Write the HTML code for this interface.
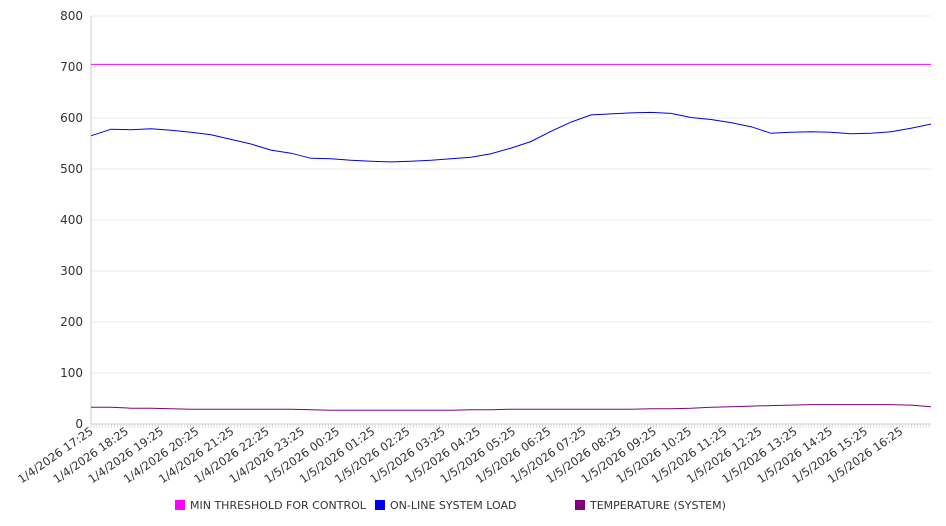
<!DOCTYPE html>
<html><head><meta charset="utf-8"><style>
body{margin:0;background:#fff;}
svg{display:block;font-family:"DejaVu Sans","Liberation Sans",sans-serif;}
</style></head><body>
<svg id="chart" width="946" height="526"></svg>
<script>
const yTicks=[0,100,200,300,400,500,600,700,800];
const xLabels=["1/4/2026 17:25","1/4/2026 18:25","1/4/2026 19:25","1/4/2026 20:25","1/4/2026 21:25","1/4/2026 22:25","1/4/2026 23:25","1/5/2026 00:25","1/5/2026 01:25","1/5/2026 02:25","1/5/2026 03:25","1/5/2026 04:25","1/5/2026 05:25","1/5/2026 06:25","1/5/2026 07:25","1/5/2026 08:25","1/5/2026 09:25","1/5/2026 10:25","1/5/2026 11:25","1/5/2026 12:25","1/5/2026 13:25","1/5/2026 14:25","1/5/2026 15:25","1/5/2026 16:25"];
const loadValues=[565,578,577,579,576,572,567,558,549,537,531,521,520,517,515,514,515,517,520,523,530,541,554,574,592,606,608,610,611,609,601,597,591,583,570,572,573,572,569,570,573,580,588];
const tempValues=[33,33,31,31,30,29,29,29,29,29,29,28,27,27,27,27,27,27,27,28,28,29,29,29,29,29,29,29,30,30,31,33,34,35,36,37,38,38,38,38,38,37,34];
const thresholdValues=[705,705];
const seriesNames=["MIN THRESHOLD FOR CONTROL","ON-LINE SYSTEM LOAD","TEMPERATURE (SYSTEM)"];
const seriesColors=["#ff00ff","#0000ee","#800080"];

const NS="http://www.w3.org/2000/svg";
const svg=document.getElementById('chart');
const L=91,R=931,T=16,B=424;
const yS=v=>B-(v/800)*(B-T);
const xIdx=(i,n)=>L+(R-L)*i/(n-1);
function mk(t,a,p){const e=document.createElementNS(NS,t);for(const k in a)e.setAttribute(k,a[k]);(p||svg).appendChild(e);return e;}

yTicks.forEach(v=>{
  const g=mk('line',{x1:L,x2:R,y1:yS(v),y2:yS(v),stroke:v===0?'#ccc':'#ebebeb','stroke-width':1});
  
  
  const t=mk('text',{x:83,y:yS(v)+4,'text-anchor':'end','font-size':12,fill:'#333'});
  t.textContent=v;
  
  
});
const ax=mk('line',{x1:L,x2:L,y1:T,y2:B,stroke:'#ccc'});


for(let x=L;x<=R;x+=2.93){mk('line',{x1:x,x2:x,y1:B,y2:B+4,stroke:'#ccc','stroke-width':0.6});}
const step=35.2;
xLabels.forEach((s,i)=>{
  const x=L+i*step+3;
  const y=B+9;
  const t=mk('text',{x:x,y:y,'text-anchor':'end','font-size':11.5,fill:'#333',transform:`rotate(-35 ${x} ${y})`});
  t.textContent=s;
  
  
});
function line(vals,color,name){
  const pts=vals.map((v,i)=>xIdx(i,vals.length).toFixed(1)+','+yS(v).toFixed(1)).join(' ');
  const p=mk('polyline',{points:pts,fill:'none',stroke:color,'stroke-width':1});
  
  
}
line(thresholdValues,seriesColors[0],'threshold-line');
line(loadValues,seriesColors[1],'system-load-line');
line(tempValues,seriesColors[2],'temperature-line');
const lx=[175,375,575];
seriesNames.forEach((n,i)=>{
  const r=mk('rect',{x:lx[i],y:500,width:10,height:10,fill:seriesColors[i]});
  
  
  const t=mk('text',{x:lx[i]+15,y:509,'font-size':11,fill:'#333'});
  t.textContent=n;
  
  
});
</script>
</body></html>
